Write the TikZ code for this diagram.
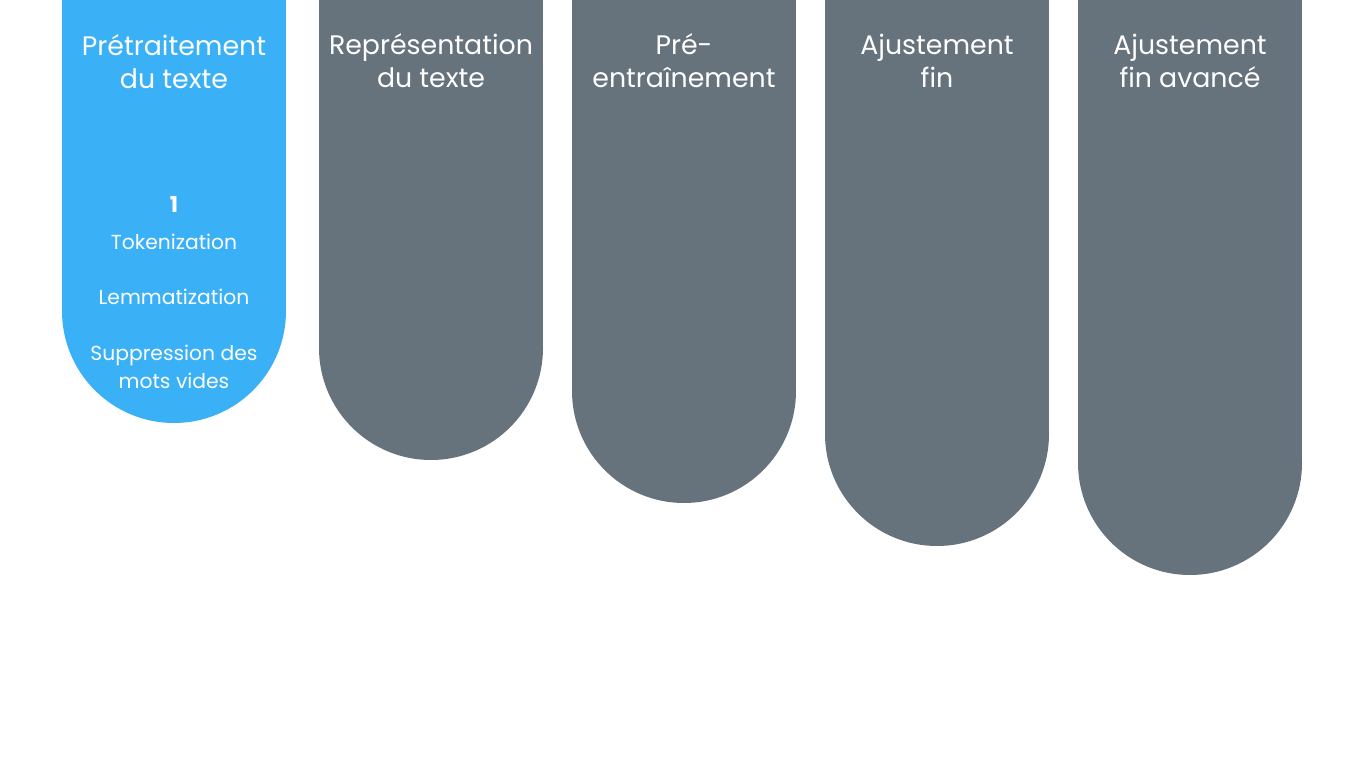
\documentclass[tikz,border=0pt]{standalone}
\usepackage{fontspec}
\setmainfont{Poppins}
\usetikzlibrary{calc}
\definecolor{stepblue}{RGB}{58,176,247}
\definecolor{stepgray}{RGB}{102,114,124}
\begin{document}
\begin{tikzpicture}[x=1pt,y=-1pt,
  title/.style={text=white,align=center,font=\fontsize{26.8}{33}\selectfont,inner sep=0pt},
  item/.style={text=white,align=center,font=\fontsize{20.3}{28}\selectfont,inner sep=0pt},
  num/.style={text=white,font=\fontsize{22}{25}\bfseries\selectfont,inner sep=0pt}]
\useasboundingbox[fill=white] (0,0) rectangle (1365,768);
\newcommand\pill[4]{% left, center y of arc, color, name
  \fill[#3] (#1,-5) rectangle (#1+224,#2);
  \fill[#3] (#1+112,#2) circle[radius=112pt];
  \coordinate (#4) at (#1+112,0);}
\pill{62}{311}{stepblue}{c1}
\pill{319}{348}{stepgray}{c2}
\pill{572}{391}{stepgray}{c3}
\pill{825}{434}{stepgray}{c4}
\pill{1078}{463}{stepgray}{c5}
\node[title] (t1) at ($(c1)+(0,62)$) {Prétraitement\\du texte};
\node[title] (t2) at ($(c2)+(0,61)$) {Représentation\\du texte};
\node[title] (t3) at ($(c3)+(0,61)$) {Pré-\\entraînement};
\node[title] (t4) at ($(c4)+(0,61)$) {Ajustement\\fin};
\node[title] (t5) at ($(c5)+(0,61)$) {Ajustement\\fin avancé};
\node[num] (n1) at ($(c1)+(0,204)$) {1};
\node[item] (i1) at ($(c1)+(0,242)$) {Tokenization};
\node[item] (i2) at ($(c1)+(0,297)$) {Lemmatization};
\node[item] (i3) at ($(c1)+(0,367)$) {Suppression des\\mots vides};
\end{tikzpicture}
\end{document}
